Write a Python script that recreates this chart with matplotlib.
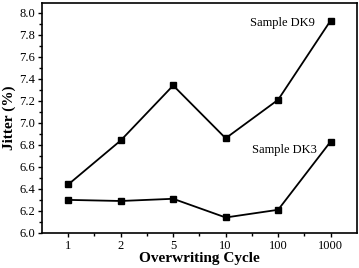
import numpy as np
import matplotlib.pyplot as plt
from matplotlib.ticker import MultipleLocator, FixedLocator

plt.rcParams['font.family'] = ['Liberation Serif', 'DejaVu Serif']

cycles = ['1', '2', '5', '10', '100', '1000']
dk9 = [6.44, 6.84, 7.34, 6.86, 7.21, 7.93]
dk3 = [6.30, 6.29, 6.31, 6.14, 6.21, 6.83]

fig = plt.figure(figsize=(3.59, 2.68), dpi=100)
ax = fig.add_axes([0.117, 0.131, 0.877, 0.858])
x = np.arange(len(cycles))
ax.plot(x, dk9, 'k-s', ms=5, lw=1.3)
ax.plot(x, dk3, 'k-s', ms=5, lw=1.3)

ax.text(4.08, 7.91, 'Sample DK9', fontsize=9, ha='center', va='center')
ax.text(4.12, 6.75, 'Sample DK3', fontsize=9, ha='center', va='center')

ax.set_xlim(-0.5, 5.5)
ax.set_ylim(6.0, 8.09)
ax.set_xticks(x)
ax.set_xticklabels(cycles)
ax.xaxis.set_minor_locator(FixedLocator(x[:-1] + 0.5))
ax.yaxis.set_major_locator(MultipleLocator(0.2))
ax.yaxis.set_minor_locator(MultipleLocator(0.1))
ax.yaxis.set_major_formatter(plt.FormatStrFormatter('%.1f'))
ax.tick_params(labelsize=9, length=3, width=1, pad=2)
ax.tick_params(which='minor', length=2, width=1)
ax.tick_params(top=False, right=False)
for s in ax.spines.values():
    s.set_linewidth(1.2)

ax.set_xlabel('Overwriting Cycle', fontsize=11, fontweight='bold', labelpad=0)
ax.set_ylabel('Jitter (%)', fontsize=11, fontweight='bold', labelpad=2)

fig.savefig('out.png', dpi=100)
